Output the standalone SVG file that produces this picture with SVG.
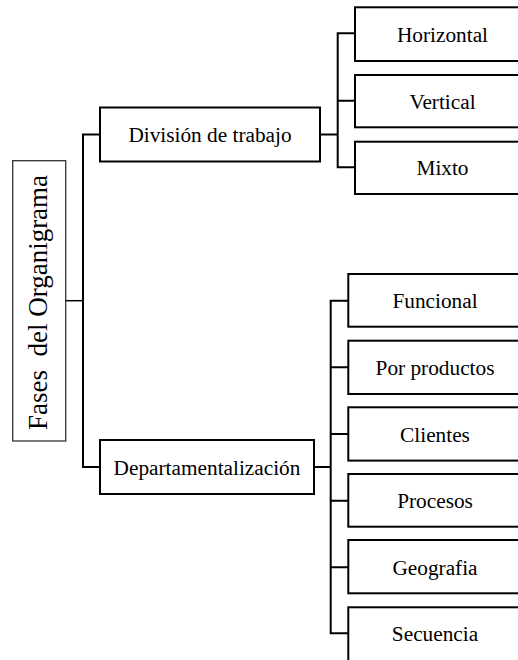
<svg xmlns="http://www.w3.org/2000/svg" width="518" height="660" viewBox="0 0 518 660">
  <style>
    .box { fill: #ffffff; stroke: #000000; stroke-width: 2; }
    .root { fill: #ffffff; stroke: #333333; stroke-width: 1.3; }
    .lbl { font-family: "Liberation Serif", "Times New Roman", serif; font-size: 21.3px; fill: #000000; text-anchor: middle; }
    .big { font-size: 27px; }
    .wire { fill: none; stroke: #000000; stroke-width: 2; }
  </style>
  <rect width="518" height="660" fill="#ffffff"/>

  <!-- connectors -->
  <g id="connectors">
    <path class="wire" style="stroke-width:1.5" d="M66 300.7 H83"/>
    <path class="wire" d="M100 134.5 H83 V467 H100"/>
    <path class="wire" d="M320 134.5 H337.7"/>
    <path class="wire" d="M355 33.3 H337.7 V167.3 H355 M337.7 100.7 H355"/>
    <path class="wire" d="M314 467 H330.7"/>
    <path class="wire" d="M348.3 300.7 H330.7 V633.3 H348.3 M330.7 367.3 H348.3 M330.7 434 H348.3 M330.7 500.7 H348.3 M330.7 567.3 H348.3"/>
  </g>

  <!-- root -->
  <g id="fases">
    <rect class="root" x="12.7" y="160.7" width="53" height="280.3"/>
    <text class="lbl big" xml:space="preserve" transform="translate(47 302.5) rotate(-90)">Fases  del Organigrama</text>
  </g>

  <!-- first level -->
  <g id="division">
    <rect class="box" x="100" y="107.5" width="220" height="54"/>
    <text class="lbl" x="210" y="142">División de trabajo</text>
  </g>
  <g id="departamentalizacion">
    <rect class="box" x="100" y="440" width="214" height="54"/>
    <text class="lbl" x="207" y="474.5">Departamentalización</text>
  </g>

  <!-- division children -->
  <g id="horizontal">
    <rect class="box" x="355" y="7.3" width="175" height="53.7"/>
    <text class="lbl" x="442.5" y="41.7">Horizontal</text>
  </g>
  <g id="vertical">
    <rect class="box" x="355" y="75" width="175" height="52.3"/>
    <text class="lbl" x="442.5" y="108.5">Vertical</text>
  </g>
  <g id="mixto">
    <rect class="box" x="355" y="141.7" width="175" height="52.3"/>
    <text class="lbl" x="442.5" y="175">Mixto</text>
  </g>

  <!-- departamentalizacion children -->
  <g id="funcional">
    <rect class="box" x="348.3" y="274" width="175" height="52.7"/>
    <text class="lbl" x="435" y="308">Funcional</text>
  </g>
  <g id="productos">
    <rect class="box" x="348.3" y="340.7" width="175" height="53.3"/>
    <text class="lbl" x="435" y="374.8">Por productos</text>
  </g>
  <g id="clientes">
    <rect class="box" x="348.3" y="407.3" width="175" height="53.3"/>
    <text class="lbl" x="435" y="441.5">Clientes</text>
  </g>
  <g id="procesos">
    <rect class="box" x="348.3" y="474" width="175" height="52.7"/>
    <text class="lbl" x="435" y="508">Procesos</text>
  </g>
  <g id="geografia">
    <rect class="box" x="348.3" y="540" width="175" height="53.3"/>
    <text class="lbl" x="435" y="574.5">Geografia</text>
  </g>
  <g id="secuencia">
    <rect class="box" x="348.3" y="607.3" width="175" height="60"/>
    <text class="lbl" x="435" y="641">Secuencia</text>
  </g>
</svg>
